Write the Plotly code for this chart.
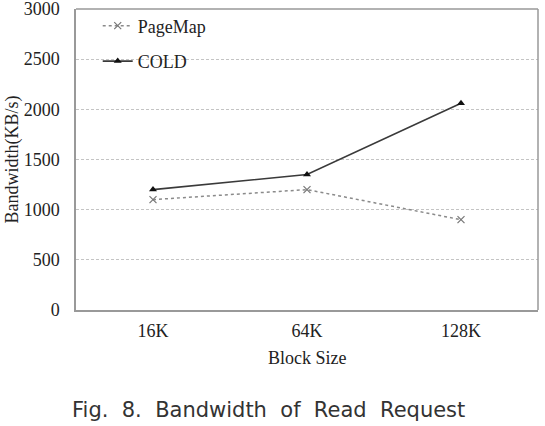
import plotly.graph_objects as go

categories = ["16K", "64K", "128K"]
pagemap = [1100, 1200, 900]
cold = [1200, 1350, 2060]
y_ticks = [0, 500, 1000, 1500, 2000, 2500, 3000]

serif = "Liberation Serif, Times New Roman, serif"

fig = go.Figure()
fig.add_trace(go.Scatter(
    x=categories, y=pagemap, name="PageMap", mode="lines+markers",
    legendgroup="a",
    line=dict(color="#8a8a8a", width=1.5, dash="dot"),
    marker=dict(symbol="x-thin", size=7, line=dict(color="#777", width=1.2), color="#777"),
))
fig.add_trace(go.Scatter(
    x=categories, y=cold, name="COLD", mode="lines+markers",
    legendgroup="b",
    line=dict(color="#3a3a3a", width=1.6),
    marker=dict(symbol="triangle-up", size=7, color="#111"),
))

fig.update_layout(
    width=545, height=426,
    margin=dict(l=76, r=7, t=9, b=116, autoexpand=False),
    paper_bgcolor="white", plot_bgcolor="white",
    font=dict(family=serif, size=18, color="#222"),
    showlegend=True,
    legend=dict(x=0.047, y=1.005, xanchor="left", yanchor="top",
                bgcolor="rgba(0,0,0,0)", borderwidth=0,
                traceorder="grouped", tracegroupgap=9,
                font=dict(family=serif, size=18, color="#222")),
    xaxis=dict(range=[-0.5, 2.5], showgrid=False, showline=True,
               linecolor="#999", linewidth=2, mirror=False, automargin=False,
               ticks="", ticklabelstandoff=3,
               tickfont=dict(family=serif, size=18, color="#222")),
    yaxis=dict(range=[0, 3000], tickvals=y_ticks, showgrid=True,
               gridcolor="#c4c4c4", griddash="3px,2px", gridwidth=1,
               showline=True, linecolor="#999", linewidth=1.5, automargin=False,
               zeroline=False, ticks="", ticklabelstandoff=11,
               ticklabeloverflow="allow",
               tickfont=dict(family=serif, size=18, color="#222")),
    shapes=[
        dict(type="line", xref="paper", yref="paper", x0=0, x1=1, y0=1, y1=1,
             line=dict(color="#999", width=1.5)),
        dict(type="line", xref="paper", yref="paper", x0=1, x1=1, y0=0, y1=1,
             line=dict(color="#999", width=1.5)),
    ],
    annotations=[
        dict(text="Block Size", xref="paper", yref="paper", x=0.5, y=-0.158,
             xanchor="center", yanchor="middle", showarrow=False,
             font=dict(family=serif, size=18, color="#222")),
        dict(text="Bandwidth(KB/s)", xref="paper", yref="paper",
             x=(12 - 76) / 462, y=0.5, xanchor="center", yanchor="middle",
             showarrow=False, textangle=-90,
             font=dict(family=serif, size=18, color="#222")),
        dict(text="Fig.  8.  Bandwidth  of  Read  Request", xref="paper", yref="paper",
             x=(268 - 76) / 462, y=(310 - 410) / 301, xanchor="center", yanchor="middle",
             showarrow=False,
             font=dict(family="DejaVu Sans, sans-serif", size=21, color="#333")),
    ],
)

fig.write_html("out.html")
